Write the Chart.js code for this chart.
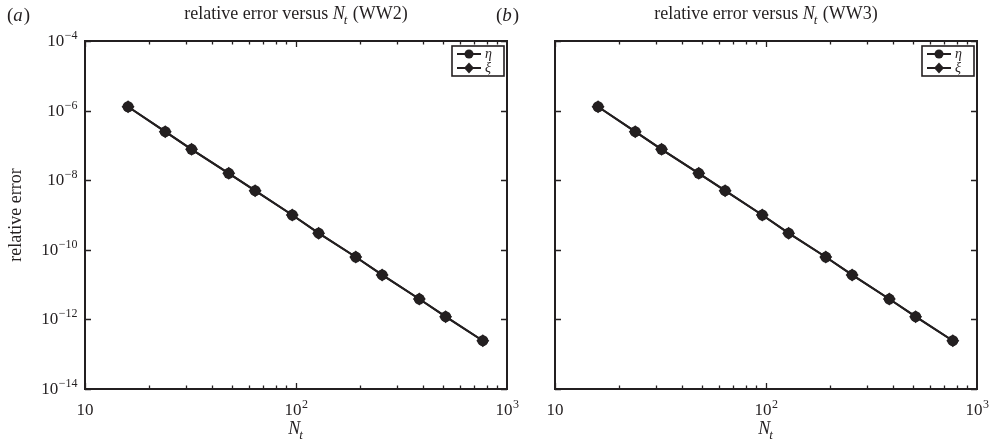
<!DOCTYPE html>
<html>
<head>
<meta charset="utf-8">
<script src="https://cdn.jsdelivr.net/npm/chart.js@4.4.1/dist/chart.umd.min.js"></script>
<style>
  html, body { margin: 0; padding: 0; background: #fff; }
  body { width: 991px; height: 444px; position: relative; overflow: hidden; }
  canvas { position: absolute; top: 0; }
  #panelA { left: 0; }
  #panelB { left: 480px; }
</style>
</head>
<body>
<canvas id="panelA" width="530" height="444"></canvas>
<canvas id="panelB" width="511" height="444"></canvas>
<script>
// número de pasos temporales
const nt = [16, 24, 32, 48, 64, 96, 128, 192, 256, 384, 512, 768];

// error relativo, caso WW2
const etaWW2 = [1.29e-6, 2.48e-7, 7.7e-8, 1.58e-8, 5.0e-9, 1.0e-9, 3.0e-10, 6.2e-11, 1.9e-11, 3.85e-12, 1.2e-12, 2.44e-13];
const xiWW2  = [1.29e-6, 2.48e-7, 7.7e-8, 1.58e-8, 5.0e-9, 1.0e-9, 3.0e-10, 6.2e-11, 1.9e-11, 3.85e-12, 1.2e-12, 2.44e-13];

// error relativo, caso WW3
const etaWW3 = [1.29e-6, 2.48e-7, 7.7e-8, 1.58e-8, 5.0e-9, 1.0e-9, 3.0e-10, 6.2e-11, 1.9e-11, 3.85e-12, 1.2e-12, 2.44e-13];
const xiWW3  = [1.29e-6, 2.48e-7, 7.7e-8, 1.58e-8, 5.0e-9, 1.0e-9, 3.0e-10, 6.2e-11, 1.9e-11, 3.85e-12, 1.2e-12, 2.44e-13];

// marcas de los ejes
const xTicks = [10, 100, 1000];
const yTicks = [1e-4, 1e-6, 1e-8, 1e-10, 1e-12, 1e-14];
const seriesNames = ['η', 'ξ'];

const ink = '#231f20';
const serif = '"Liberation Serif", "DejaVu Serif", serif';

// texto con exponente: 10 y superíndice
function potencia(ctx, exp, x, y, align) {
    const base = '10';
    const sup = exp === 1 ? '' : String(exp).replace('-', '\u2212');
    ctx.font = '17px ' + serif;
    const wb = ctx.measureText(base).width;
    ctx.font = '12px ' + serif;
    const ws = ctx.measureText(sup).width;
    const w = wb + ws;
    let x0 = x;
    if (align === 'center') x0 = x - w / 2;
    if (align === 'right') x0 = x - w;
    ctx.textAlign = 'left';
    ctx.textBaseline = 'alphabetic';
    ctx.font = '17px ' + serif;
    ctx.fillText(base, x0, y);
    ctx.font = '12px ' + serif;
    ctx.fillText(sup, x0 + wb + 0.5, y - 7);
}

// N con subíndice t en cursiva, devuelve el ancho
function nSubT(ctx, x, y, medir) {
    ctx.font = 'italic 18px ' + serif;
    const wn = ctx.measureText('N').width;
    ctx.font = 'italic 13px ' + serif;
    const wt = ctx.measureText('t').width;
    if (!medir) {
        ctx.textAlign = 'left';
        ctx.font = 'italic 18px ' + serif;
        ctx.fillText('N', x, y);
        ctx.font = 'italic 13px ' + serif;
        ctx.fillText('t', x + wn - 1, y + 5);
    }
    return wn + wt;
}

// marco, marcas hacia dentro, etiquetas y leyenda
const ejesPlugin = {
    id: 'ejes',
    afterDatasetsDraw(chart, args, opts) {
        const ctx = chart.ctx;
        const a = chart.chartArea;
        const xs = chart.scales.x;
        const ys = chart.scales.y;
        ctx.save();
        ctx.strokeStyle = ink;
        ctx.fillStyle = ink;

        // marcas del eje x (mayores y menores)
        ctx.lineWidth = 1.3;
        for (let d = 10; d < 1000; d *= 10) {
            for (let m = 1; m <= 9; m++) {
                const px = Math.round(xs.getPixelForValue(m * d)) + 0.5;
                const len = m === 1 ? 6 : 3.5;
                ctx.beginPath();
                ctx.moveTo(px, a.bottom); ctx.lineTo(px, a.bottom - len);
                ctx.moveTo(px, a.top); ctx.lineTo(px, a.top + len);
                ctx.stroke();
            }
        }
        // marcas del eje y
        yTicks.forEach(v => {
            const py = Math.round(ys.getPixelForValue(v)) + 0.5;
            ctx.beginPath();
            ctx.moveTo(a.left, py); ctx.lineTo(a.left + 6, py);
            ctx.moveTo(a.right, py); ctx.lineTo(a.right - 6, py);
            ctx.stroke();
        });

        // marco
        ctx.lineWidth = 2;
        ctx.strokeRect(a.left, a.top, a.right - a.left, a.bottom - a.top);

        // etiquetas x
        xTicks.forEach(v => {
            const px = xs.getPixelForValue(v);
            const e = Math.round(Math.log10(v));
            potencia(ctx, e, px, a.bottom + 26, 'center');
        });

        // etiquetas y
        if (opts.etiquetasY) {
            yTicks.forEach(v => {
                const py = ys.getPixelForValue(v);
                const e = Math.round(Math.log10(v));
                potencia(ctx, e, a.left - 8, py + 5, 'right');
            });
            ctx.save();
            ctx.translate(21, (a.top + a.bottom) / 2);
            ctx.rotate(-Math.PI / 2);
            ctx.font = '18px ' + serif;
            ctx.textAlign = 'center';
            ctx.fillText('relative error', 0, 0);
            ctx.restore();
        }

        // título del eje x
        const cx = (a.left + a.right) / 2;
        const wN = nSubT(ctx, 0, 0, true);
        nSubT(ctx, cx - wN / 2, a.bottom + 45, false);

        // título del panel
        ctx.font = '18px ' + serif;
        const t1 = 'relative error versus ';
        const t2 = ' (' + opts.caso + ')';
        const w1 = ctx.measureText(t1).width;
        const w2 = ctx.measureText(t2).width;
        const x0 = cx - (w1 + wN + w2) / 2;
        const ty = 19;
        ctx.textAlign = 'left';
        ctx.fillText(t1, x0, ty);
        nSubT(ctx, x0 + w1, ty, false);
        ctx.font = '18px ' + serif;
        ctx.fillText(t2, x0 + w1 + wN, ty);

        // letra del panel
        ctx.font = '19px ' + serif;
        const lx = opts.letraX;
        ctx.fillText('(', lx, 21);
        const wp = ctx.measureText('(').width;
        ctx.font = 'italic 19px ' + serif;
        ctx.fillText(opts.letra, lx + wp, 21);
        const wl = ctx.measureText(opts.letra).width;
        ctx.font = '19px ' + serif;
        ctx.fillText(')', lx + wp + wl + 1, 21);

        // leyenda dentro del área
        const bx = a.right - 55, by = a.top + 5, bw = 52, bh = 30;
        ctx.fillStyle = '#fff';
        ctx.fillRect(bx, by, bw, bh);
        ctx.lineWidth = 1.6;
        ctx.strokeRect(bx, by, bw, bh);
        ctx.fillStyle = ink;
        chart.data.datasets.forEach((ds, i) => {
            const ry = by + 8 + i * 14;
            ctx.lineWidth = 2;
            ctx.beginPath();
            ctx.moveTo(bx + 5, ry); ctx.lineTo(bx + 29, ry);
            ctx.stroke();
            const mx = bx + 17;
            ctx.beginPath();
            if (ds.pointStyle === 'circle') {
                ctx.arc(mx, ry, 4.5, 0, Math.PI * 2);
            } else {
                ctx.moveTo(mx, ry - 5.5); ctx.lineTo(mx + 5, ry);
                ctx.lineTo(mx, ry + 5.5); ctx.lineTo(mx - 5, ry);
                ctx.closePath();
            }
            ctx.fill();
            ctx.font = 'italic 14px ' + serif;
            ctx.textAlign = 'left';
            ctx.fillText(ds.label, bx + 33, ry + 4);
        });
        ctx.restore();
    }
};

function serie(label, valores, estilo, radio) {
    return {
        label: label,
        data: nt.map((n, i) => ({ x: n, y: valores[i] })),
        borderColor: ink,
        backgroundColor: ink,
        borderWidth: 2,
        pointStyle: estilo,
        pointRadius: radio,
        pointBorderWidth: 0,
        tension: 0
    };
}

function crearPanel(id, eta, xi, padding, opts) {
    const ctx = document.getElementById(id).getContext('2d');
    return new Chart(ctx, {
        type: 'line',
        data: {
            datasets: [
                serie(seriesNames[0], eta, 'circle', 5.5),
                serie(seriesNames[1], xi, 'rectRot', 6.5)
            ]
        },
        options: {
            responsive: false,
            animation: false,
            devicePixelRatio: 1,
            layout: { padding: padding },
            scales: {
                x: { type: 'logarithmic', min: 10, max: 1000, display: false },
                y: { type: 'logarithmic', min: 1e-14, max: 1e-4, display: false }
            },
            plugins: {
                legend: { display: false },
                tooltip: { enabled: false },
                ejes: opts
            }
        },
        plugins: [ejesPlugin]
    });
}

crearPanel('panelA', etaWW2, xiWW2,
    { left: 85, right: 23, top: 41, bottom: 55 },
    { caso: 'WW2', letra: 'a', letraX: 7, etiquetasY: true });

crearPanel('panelB', etaWW3, xiWW3,
    { left: 75, right: 14, top: 41, bottom: 55 },
    { caso: 'WW3', letra: 'b', letraX: 16, etiquetasY: false });
</script>
</body>
</html>
